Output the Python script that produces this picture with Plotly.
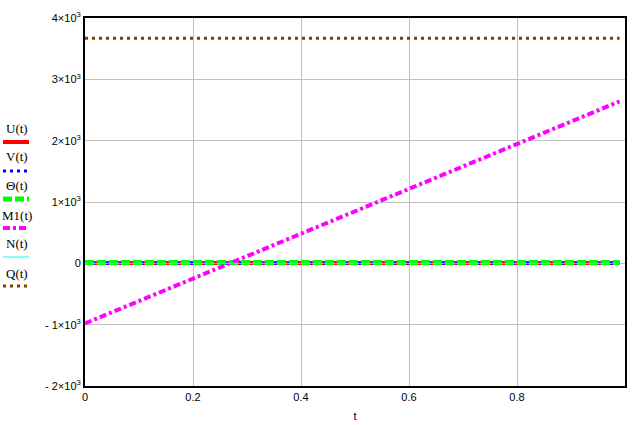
import plotly.graph_objects as go

t = [0, 0.1, 0.2, 0.3, 0.4, 0.5, 0.6, 0.7, 0.8, 0.9, 0.99]
U = [5, 5, 5, 5, 5, 5, 5, 5, 5, 5, 5]
V = [0, 0, 0, 0, 0, 0, 0, 0, 0, 0, 0]
Theta = [15, 15, 15, 15, 15, 15, 15, 15, 15, 15, 15]
M1 = [-980, -614, -249, 117, 483, 849, 1214, 1580, 1946, 2311, 2640]
N = [0, 0, 0, 0, 0, 0, 0, 0, 0, 0, 0]
Q = [3670, 3670, 3670, 3670, 3670, 3670, 3670, 3670, 3670, 3670, 3670]

names = ["U(t)", "V(t)", "\u0398(t)", "M1(t)", "N(t)", "Q(t)"]
series = [U, V, Theta, M1, N, Q]
styles = [
    dict(color="#ff0000", width=4, dash="solid"),
    dict(color="#0000ff", width=3, dash="3px,4px"),
    dict(color="#00ff00", width=5, dash="9px,3px"),
    dict(color="#ff00ff", width=4, dash="7px,3px,3px,3px"),
    dict(color="#00ffff", width=1, dash="solid"),
    dict(color="#804000", width=3, dash="3px,4px"),
]

ytick_vals = [-2000, -1000, 0, 1000, 2000, 3000, 4000]
ytick_text = ["- 2\u00d710<sup>3</sup>", "- 1\u00d710<sup>3</sup>", "0",
              "1\u00d710<sup>3</sup>", "2\u00d710<sup>3</sup>",
              "3\u00d710<sup>3</sup>", "4\u00d710<sup>3</sup>"]
xtick_vals = [0, 0.2, 0.4, 0.6, 0.8]
xtick_text = ["0", "0.2", "0.4", "0.6", "0.8"]

fig = go.Figure()
for nm, s, st in zip(names, series, styles):
    fig.add_trace(go.Scatter(x=t, y=s, mode="lines", name=nm, line=st, showlegend=False))

L, R, T, B = 85, 17, 18, 39
W, H = 642, 425
pw, ph = W - L - R, H - T - B

def px(x):
    return (x - L) / pw

def py(y):
    return (H - B - y) / ph

text_y = [128, 157, 185, 215, 243, 273]
line_y = [142, 171, 199, 228, 257, 286]
for nm, st, ty, ly in zip(names, styles, text_y, line_y):
    fig.add_annotation(x=px(17), y=py(ty), xref="paper", yref="paper", text=nm,
                       showarrow=False, xanchor="center", yanchor="middle",
                       font=dict(family="Liberation Serif", size=13, color="black"))
    fig.add_shape(type="line", xref="paper", yref="paper", x0=px(3), x1=px(29),
                  y0=py(ly), y1=py(ly), line=st)

fig.update_layout(
    width=W, height=H,
    margin=dict(l=L, r=R, t=T, b=B),
    plot_bgcolor="white", paper_bgcolor="white",
    font=dict(family="Liberation Sans", size=11, color="black"),
)
fig.update_xaxes(range=[0, 1], tickvals=xtick_vals, ticktext=xtick_text,
                 showgrid=True, gridcolor="#c0c0c0", gridwidth=1,
                 showline=True, linecolor="black", linewidth=2, mirror=True,
                 zeroline=False, ticks="", automargin=False,
                 title=dict(text="t", standoff=10,
                            font=dict(family="Liberation Sans", size=11)))
fig.update_yaxes(range=[-2000, 4000], tickvals=ytick_vals, ticktext=ytick_text,
                 showgrid=True, gridcolor="#c0c0c0", gridwidth=1,
                 showline=True, linecolor="black", linewidth=2, mirror=True,
                 zeroline=False, ticks="", automargin=False)

fig.write_html("out.html", config={"displayModeBar": False},
               post_script="document.body.style.margin='0';document.body.style.overflow='hidden';")
